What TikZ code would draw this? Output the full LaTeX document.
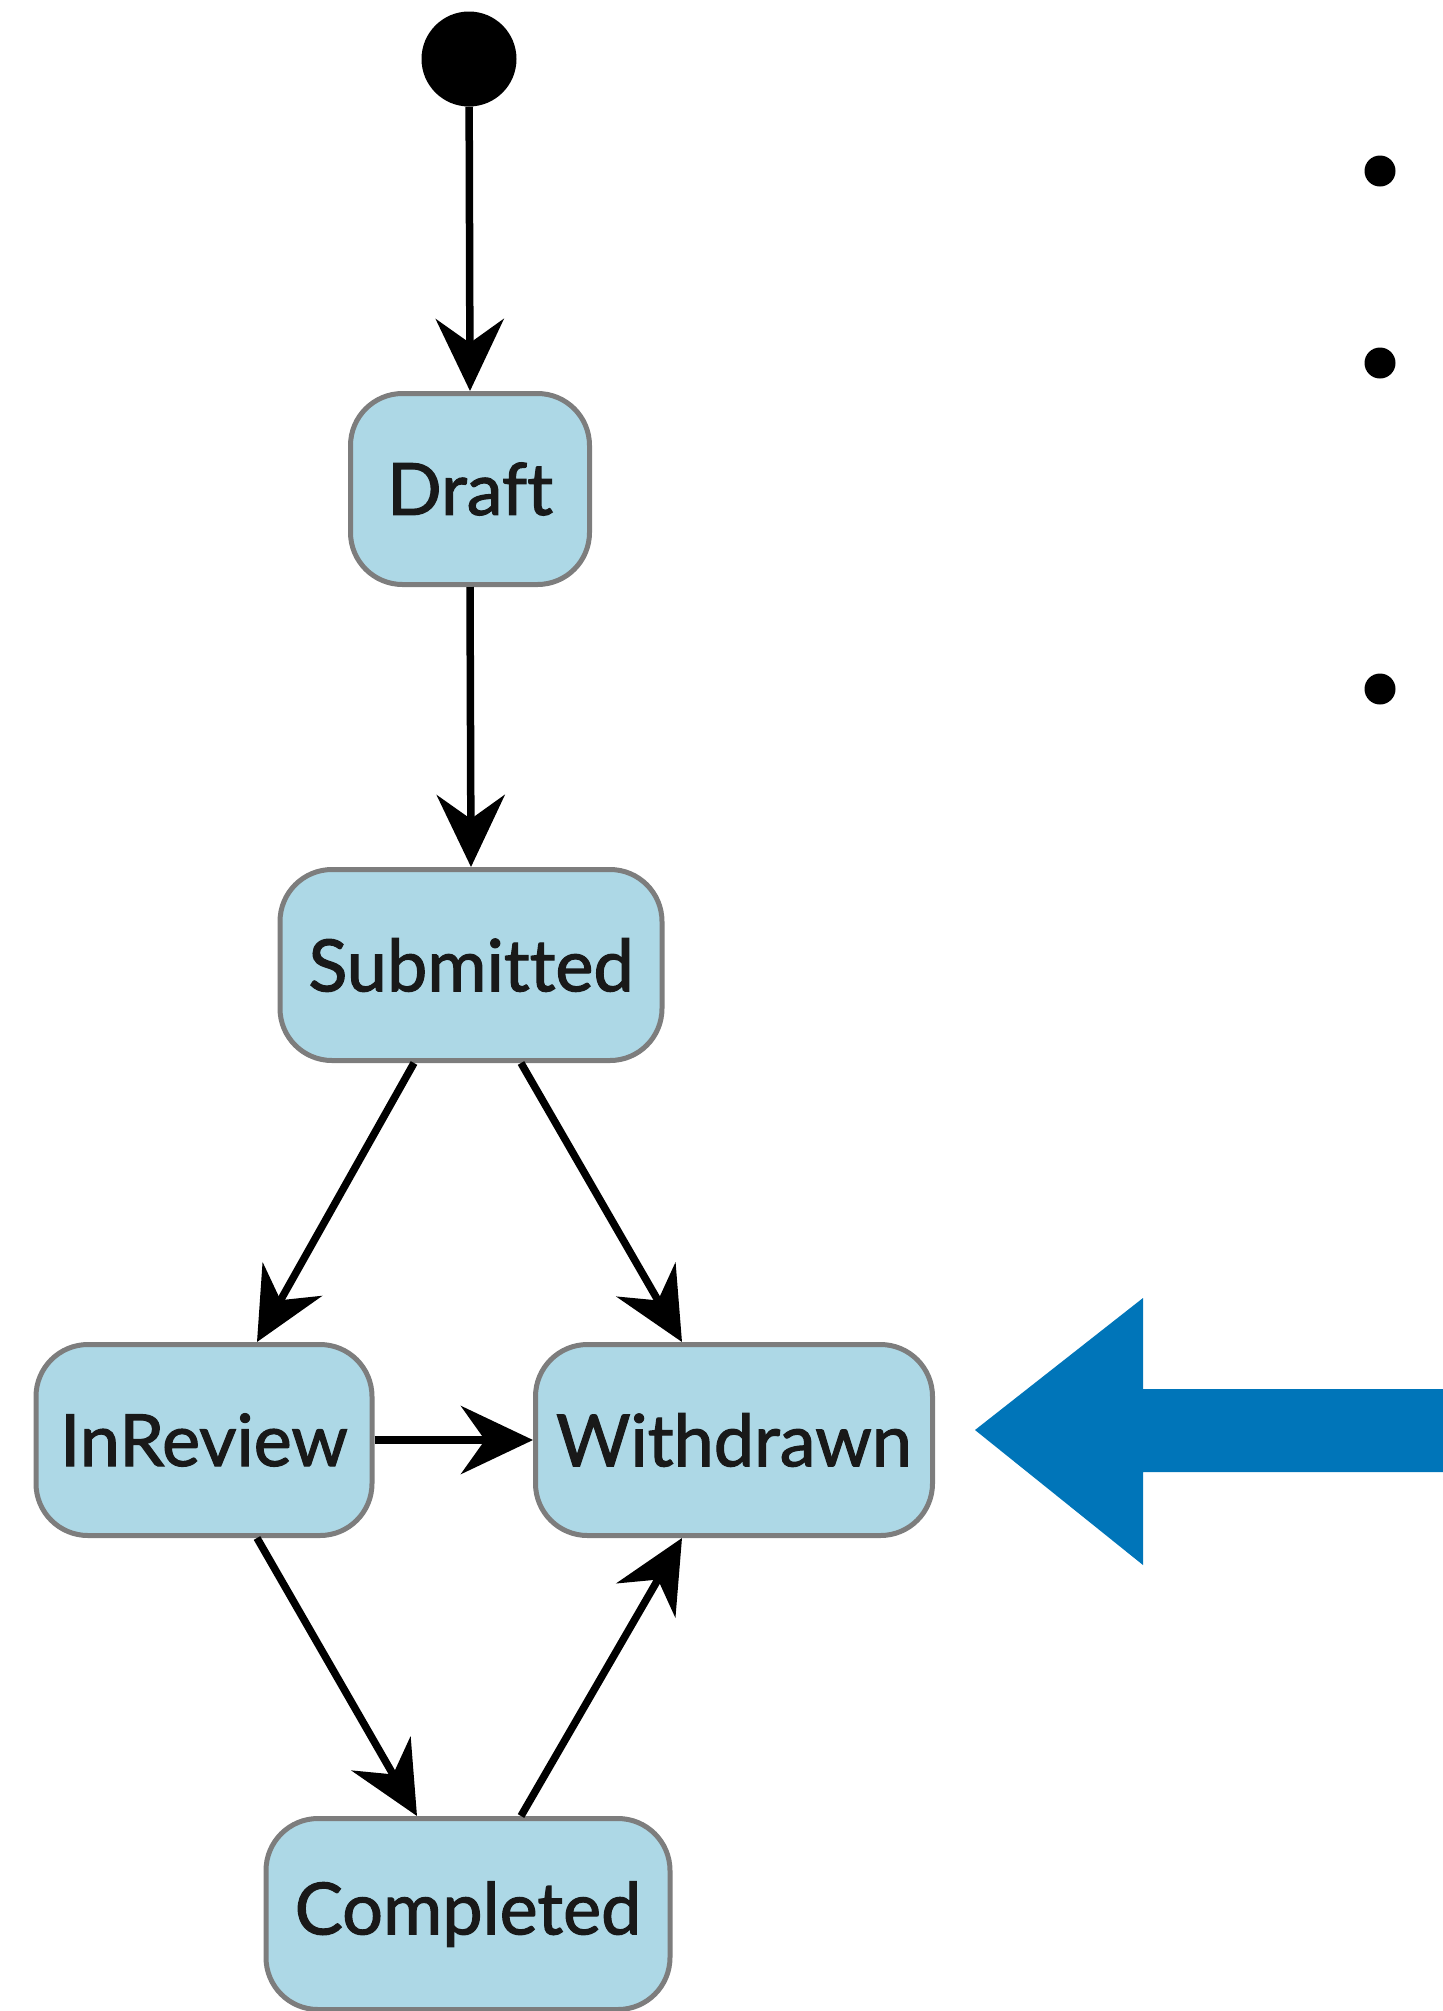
\documentclass[tikz,border=0pt]{standalone}
\usepackage{fontspec}
\setmainfont[RawFeature={-liga},FakeBold=1.6]{Lato}
\usetikzlibrary{arrows.meta}
\definecolor{boxfill}{RGB}{173,216,230}
\definecolor{boxline}{RGB}{125,125,125}
\definecolor{bigblue}{RGB}{0,117,185}
\begin{document}
\begin{tikzpicture}[x=1pt,y=-1pt,
  state/.style={draw=boxline, line width=5pt, fill=boxfill, rounded corners=52pt,
    minimum height=191pt, inner sep=0pt, font=\fontsize{72}{80}\selectfont, text=black!90},
  conn/.style={line width=7.5pt, -{Stealth[length=72pt,width=68pt,inset=24pt]}},
  bullet/.style={circle, fill=black, minimum size=31pt, inner sep=0pt}
]
\useasboundingbox (0,0) rectangle (1443,2011);
\node[circle, fill=black, minimum size=95pt, inner sep=0pt] (start) at (469,59) {};
\node[state, minimum width=239pt] (Draft) at (470,489) {Draft};
\node[state, minimum width=382pt] (Submitted) at (471,965) {Submitted};
\node[state, minimum width=336pt] (InReview) at (204,1440) {InReview};
\node[state, minimum width=397pt] (Withdrawn) at (734,1440) {Withdrawn};
\node[state, minimum width=404pt] (Completed) at (468,1914) {Completed};

\draw[conn] (start) -- (Draft.north);
\draw[conn] (Draft.south) -- (Submitted.north);
\draw[conn] ([xshift=-57pt]Submitted.south) -- ([xshift=53pt]InReview.north);
\draw[conn] ([xshift=50pt]Submitted.south) -- ([xshift=-52pt]Withdrawn.north);
\draw[conn] (InReview.east) -- (Withdrawn.west);
\draw[conn] ([xshift=53pt]InReview.south) -- ([xshift=-51pt]Completed.north);
\draw[conn] ([xshift=53pt]Completed.north) -- ([xshift=-52pt]Withdrawn.south);

\node[bullet] (b1) at (1380,171) {};
\node[bullet] (b2) at (1380,363) {};
\node[bullet] (b3) at (1380,689) {};

\fill[bigblue] (975,1430) -- (1143,1298) -- (1143,1389) -- (1443,1389)
  -- (1443,1472) -- (1143,1472) -- (1143,1565) -- cycle;
\end{tikzpicture}
\end{document}
